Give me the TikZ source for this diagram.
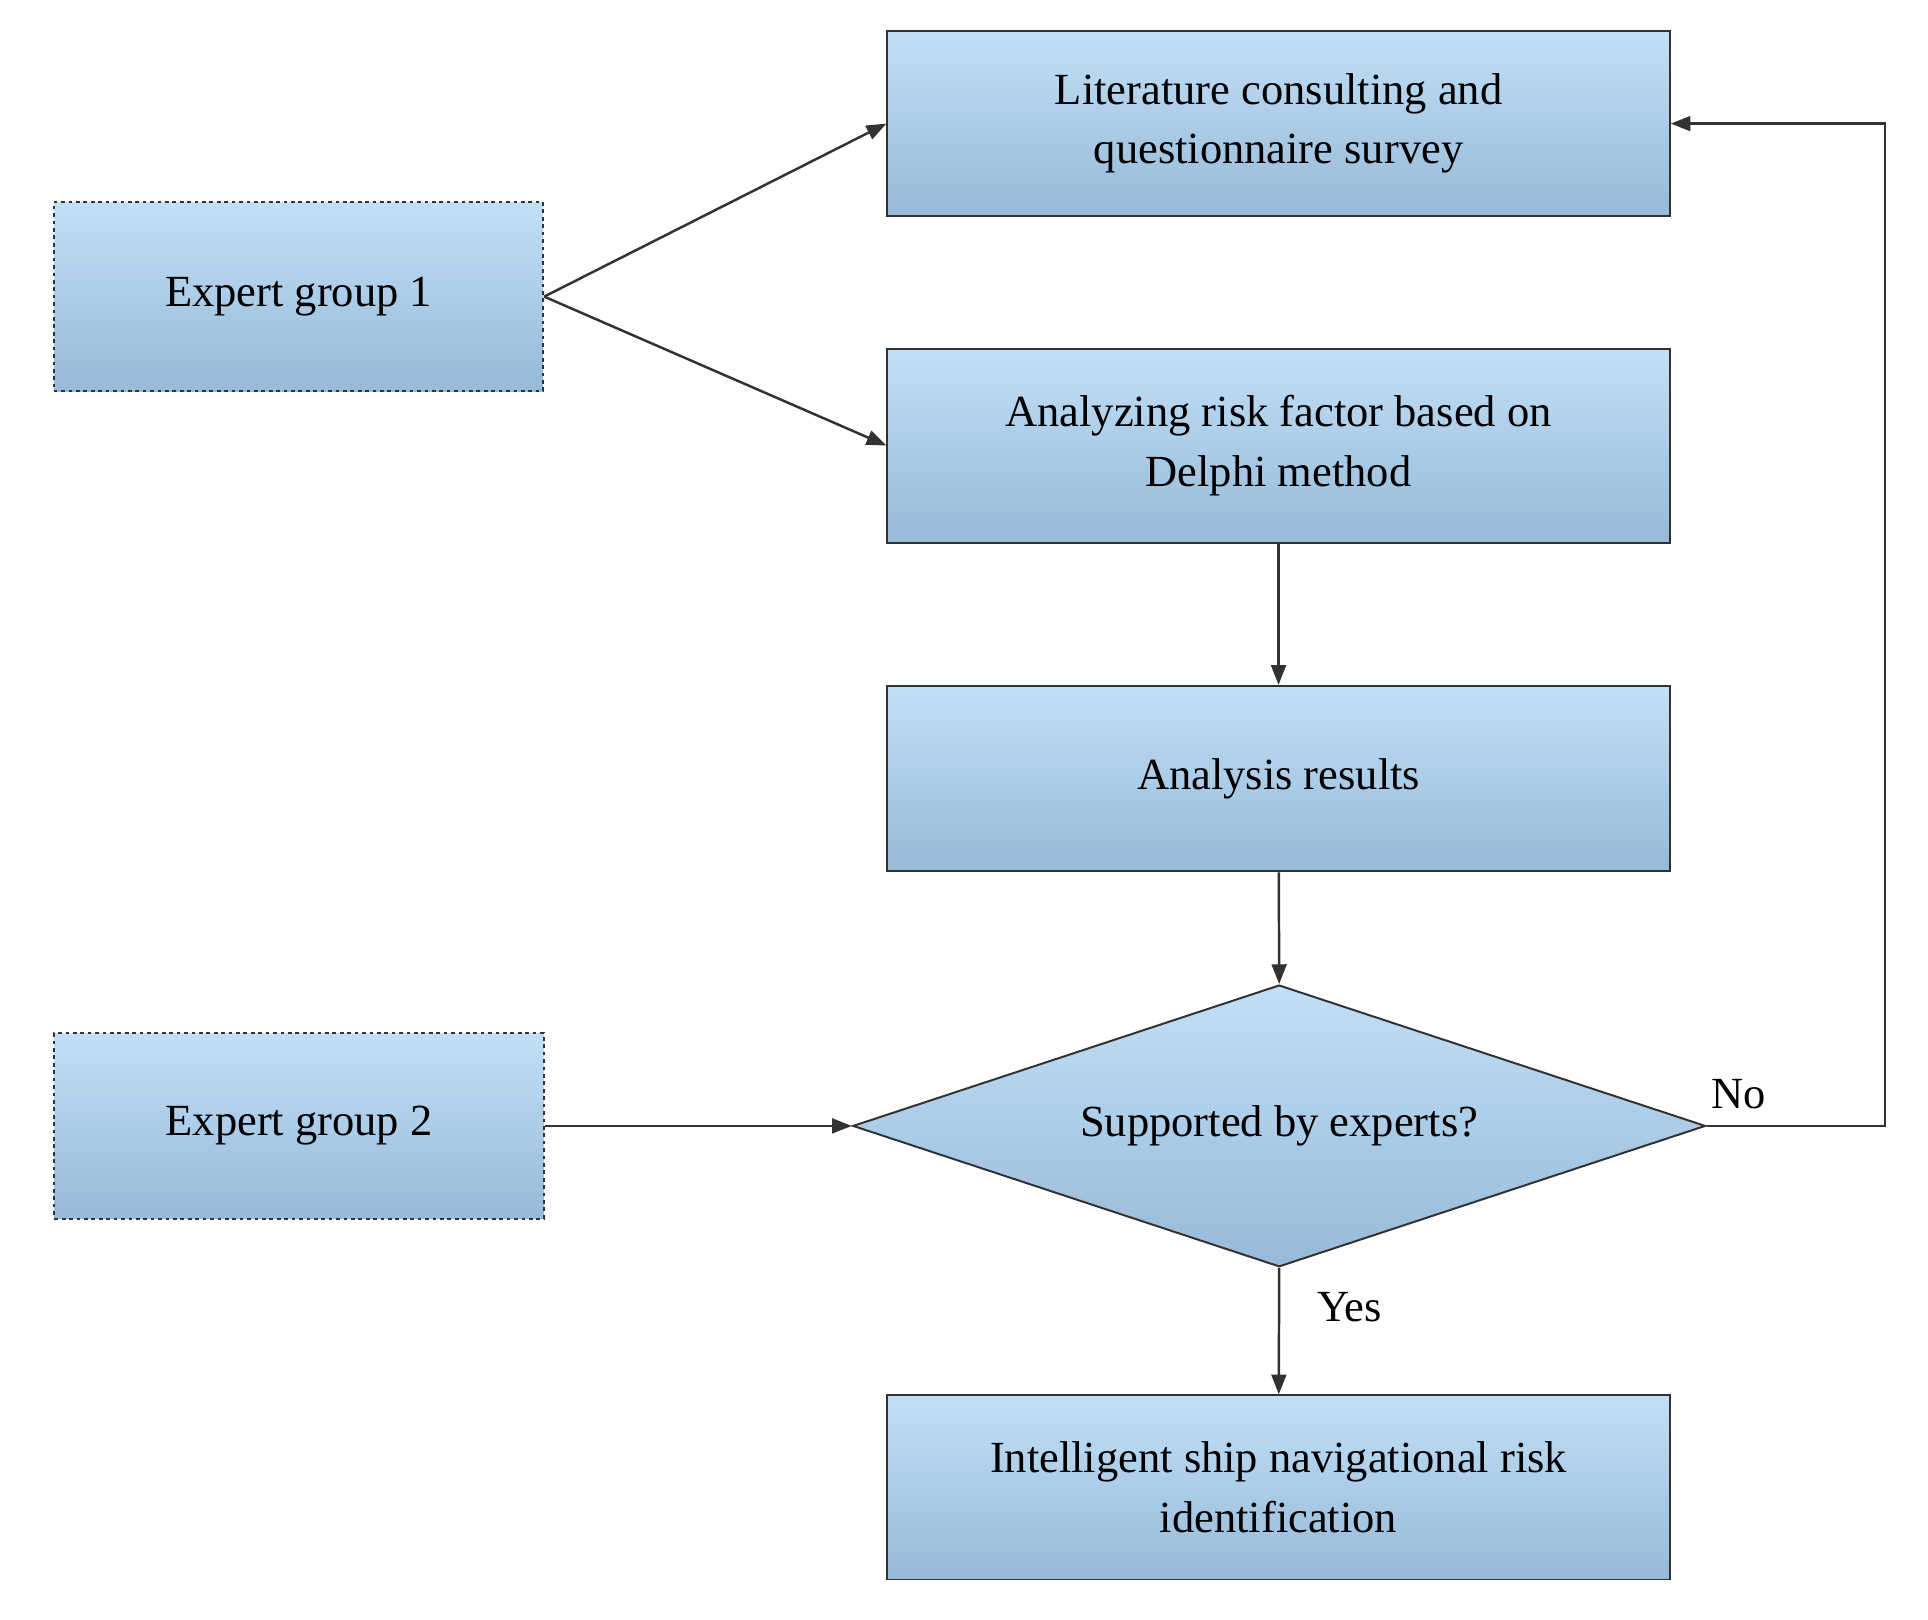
\documentclass[tikz,border=0pt]{standalone}
\usepackage{fontspec}
\setmainfont{Liberation Serif}
\usetikzlibrary{shapes.geometric,arrows.meta}
\definecolor{topc}{RGB}{194,223,247}
\definecolor{botc}{RGB}{150,186,216}
\definecolor{edge}{RGB}{50,50,50}
\begin{document}
\begin{tikzpicture}[x=1pt,y=-1pt,
  box/.style={draw=edge,line width=1.6pt,top color=topc,bottom color=botc,minimum width=633pt,align=center,font=\fontsize{36}{48}\selectfont,inner sep=0pt},
  ebox/.style={box,dashed,minimum width=396pt,minimum height=153pt},
  arr/.style={draw=edge,line width=2pt,-{Triangle[length=16pt,width=12pt]}},
  lab/.style={font=\fontsize{36}{44}\selectfont}]
\useasboundingbox (0,0) rectangle (1560,1310);
\node[box,minimum height=150pt] (lit) at (1034.5,100) {Literature consulting and\\questionnaire survey};
\node[box,minimum height=157pt] (ana) at (1034.5,360.5) {Analyzing risk factor based on\\Delphi method};
\node[box,minimum height=150pt] (res) at (1034.5,630) {Analysis results};
\node[draw=edge,line width=1.6pt,top color=topc,bottom color=botc,diamond,shape aspect=3.03,minimum width=690pt,minimum height=228pt,inner sep=0pt,font=\fontsize{36}{48}\selectfont] (dec) at (1035,911) {Supported by experts?};
\node[box,minimum height=149pt] (int) at (1034.5,1203.5) {Intelligent ship navigational risk\\identification};
\node[ebox] (e1) at (241.5,240) {Expert group 1};
\node[ebox,minimum height=150pt] (e2) at (242,911) {Expert group 2};
\draw[arr] (e1.east) -- (lit.west);
\draw[arr] (e1.east) -- (ana.west);
\draw[arr] (ana) -- (res);
\draw[arr] (res) -- (dec.north);
\draw[arr] (e2.east) -- (dec.west);
\draw[arr] (dec.south) -- (int);
\coordinate (c1) at (1525,911);
\coordinate (c2) at (1525,100);
\draw[arr] (dec.east) -- (c1) -- (c2) -- (lit.east);
\node[lab] (no) at (1407,885) {No};
\node[lab] (yes) at (1092,1058) {Yes};
\end{tikzpicture}
\end{document}
